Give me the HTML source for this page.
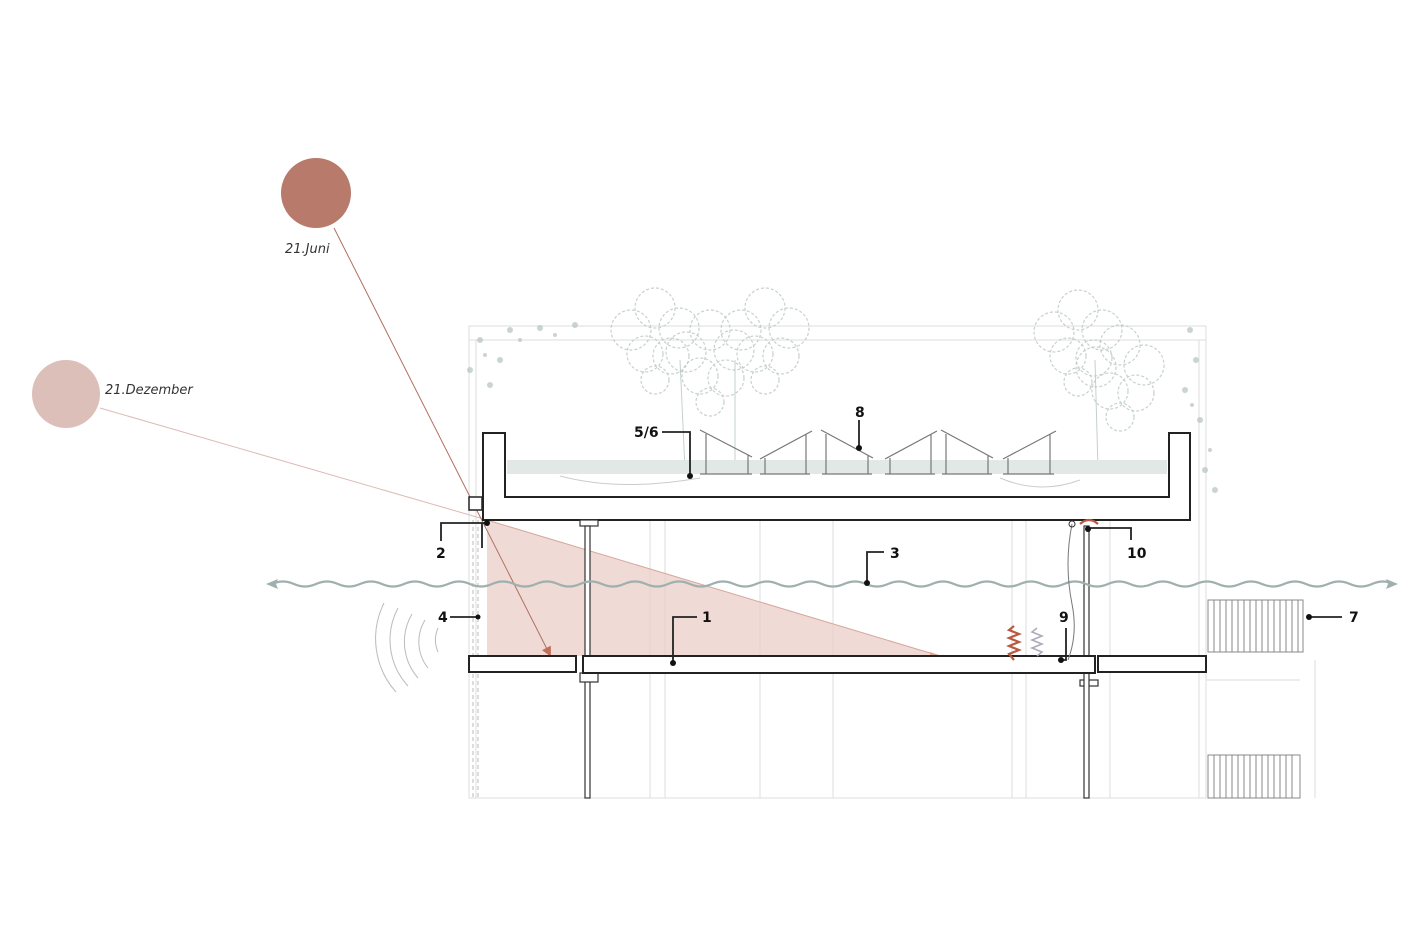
<!DOCTYPE html>
<html><head><meta charset="utf-8"><style>
html,body{margin:0;padding:0;background:#fff;}
svg{display:block;}
text{font-family:"DejaVu Sans","Liberation Sans",sans-serif;}
</style></head><body>
<svg width="1420" height="947" viewBox="0 0 1420 947" xmlns="http://www.w3.org/2000/svg">
<defs>
<marker id="ah" markerWidth="10" markerHeight="10" refX="8" refY="5" orient="auto" markerUnits="userSpaceOnUse"><path d="M0,0 L10,5 L0,10 Z" fill="#c0705a"/></marker>
<g id="tree" fill="none" stroke="#b9c6c4" stroke-width="1.2" opacity="0.8">
<circle cx="0" cy="0" r="20" stroke-dasharray="3,2"/><circle cx="-24" cy="22" r="20" stroke-dasharray="3,2"/><circle cx="24" cy="20" r="20" stroke-dasharray="3,2"/><circle cx="-10" cy="46" r="18" stroke-dasharray="3,2"/><circle cx="16" cy="48" r="18" stroke-dasharray="3,2"/><circle cx="0" cy="72" r="14" stroke-dasharray="3,2"/>
</g>
</defs>
<!-- faint frame -->
<g fill="none" stroke="#ddd" stroke-width="1">
<rect x="469" y="326" width="737" height="472"/>
<line x1="469" y1="340" x2="1206" y2="340"/>
<line x1="1199" y1="340" x2="1199" y2="798"/>
<line x1="476" y1="340" x2="476" y2="798"/>
<line x1="650" y1="520" x2="650" y2="798"/><line x1="665" y1="520" x2="665" y2="798"/>
<line x1="760" y1="520" x2="760" y2="798"/><line x1="833" y1="520" x2="833" y2="798"/>
<line x1="1012" y1="520" x2="1012" y2="798"/><line x1="1026" y1="520" x2="1026" y2="798"/>
<line x1="1110" y1="520" x2="1110" y2="798"/><line x1="1315" y1="660" x2="1315" y2="798"/>
<line x1="1206" y1="680" x2="1300" y2="680"/>
</g>
<g stroke="#bbb" stroke-dasharray="4,3" stroke-width="1"><line x1="473" y1="520" x2="473" y2="798"/><line x1="478" y1="520" x2="478" y2="798"/></g>
<!-- trees -->
<g>
<line x1="680" y1="360" x2="685" y2="470" stroke="#c6d0ce"/><line x1="735" y1="360" x2="735" y2="470" stroke="#c6d0ce"/><line x1="1095" y1="360" x2="1098" y2="470" stroke="#c6d0ce"/>
<use href="#tree" x="655" y="308"/><use href="#tree" x="765" y="308"/><use href="#tree" x="710" y="330"/>
<use href="#tree" x="1078" y="310"/><use href="#tree" x="1120" y="345"/>
</g>
<!-- ivy -->
<g fill="#b4c2c0" opacity="0.7">
<circle cx="480" cy="340" r="3"/><circle cx="500" cy="360" r="3"/><circle cx="470" cy="370" r="3"/><circle cx="510" cy="330" r="3"/><circle cx="540" cy="328" r="3"/><circle cx="575" cy="325" r="3"/><circle cx="490" cy="385" r="3"/><circle cx="520" cy="340" r="2"/><circle cx="555" cy="335" r="2"/><circle cx="485" cy="355" r="2"/>
<circle cx="1190" cy="330" r="3"/><circle cx="1196" cy="360" r="3"/><circle cx="1185" cy="390" r="3"/><circle cx="1200" cy="420" r="3"/><circle cx="1205" cy="470" r="3"/><circle cx="1215" cy="490" r="3"/><circle cx="1180" cy="440" r="3"/><circle cx="1192" cy="405" r="2"/><circle cx="1210" cy="450" r="2"/>
</g>
<!-- grass -->
<rect x="507" y="460" width="660" height="14" fill="#e2e8e6"/>
<path d="M560,476 Q620,492 700,478 M1000,478 Q1040,495 1080,480" stroke="#ccc" fill="none"/>
<!-- solar panels -->
<g stroke="#777" stroke-width="1.2" fill="none">
<path d="M700,430 L752,457 M706,434 V474 M748,455 V474 M700,474 H752"/>
<path d="M760,459 L812,431 M765,458 V474 M806,434 V474 M760,474 H810"/>
<path d="M821,430 L873,458 M826,434 V474 M868,455 V474 M822,474 H872"/>
<path d="M885,459 L937,431 M890,458 V474 M931,434 V474 M885,474 H935"/>
<path d="M941,430 L993,458 M946,434 V474 M988,455 V474 M942,474 H992"/>
<path d="M1003,459 L1056,431 M1008,458 V474 M1050,434 V474 M1003,474 H1054"/>
</g>
<polygon points="487,520 487,656 940,656" fill="#e9cdc8" opacity="0.75"/>
<line x1="487" y1="520" x2="940" y2="656" stroke="#d7a79c" stroke-width="1"/>
<circle cx="316" cy="193" r="35" fill="#b87a6a"/>
<circle cx="66" cy="394" r="34" fill="#dcbfb8"/>
<text x="285" y="253" font-size="13" font-style="italic" fill="#333">21.Juni</text>
<text x="105" y="394" font-size="13" font-style="italic" fill="#333">21.Dezember</text>
<line x1="100" y1="408" x2="487" y2="520" stroke="#dcbcb4" stroke-width="1"/>
<line x1="334" y1="228" x2="550" y2="655" stroke="#b07060" stroke-width="1" marker-end="url(#ah)"/>
<polygon points="930,652 942,656 930,660" fill="#dba89a"/>
<path d="M483,433 H505 V497 H1169 V433 H1190 V520 H483 Z" fill="#fff" stroke="#222" stroke-width="2"/>
<rect x="469" y="497" width="13" height="13" fill="#fff" stroke="#222" stroke-width="1.5"/>
<g stroke="#333" stroke-width="1.2" fill="#fff">
<rect x="580" y="520" width="18" height="6"/><rect x="585" y="526" width="5" height="272"/>
<rect x="1080" y="680" width="18" height="6"/><rect x="1084" y="526" width="5" height="272"/>
<rect x="580" y="673" width="18" height="9"/>
</g>
<g fill="#fff" stroke="#222" stroke-width="2">
<rect x="469" y="656" width="107" height="16"/>
<rect x="583" y="656" width="512" height="17"/>
<rect x="1098" y="656" width="108" height="16"/>
</g>
<path d="M272,584 q11,-5 22,0 t22,0 t22,0 t22,0 t22,0 t22,0 t22,0 t22,0 t22,0 t22,0 t22,0 t22,0 t22,0 t22,0 t22,0 t22,0 t22,0 t22,0 t22,0 t22,0 t22,0 t22,0 t22,0 t22,0 t22,0 t22,0 t22,0 t22,0 t22,0 t22,0 t22,0 t22,0 t22,0 t22,0 t22,0 t22,0 t22,0 t22,0 t22,0 t22,0 t22,0 t22,0 t22,0 t22,0 t22,0 t22,0 t22,0 t22,0 t22,0 t22,0 t22,0" stroke="#9fb0ae" stroke-width="2.2" fill="none"/>
<polygon points="266,584 278,579 276,584 278,589" fill="#9fb0ae"/>
<polygon points="1398,584 1386,579 1388,584 1386,589" fill="#9fb0ae"/>
<g fill="none" stroke="#bbb" stroke-width="1">
<path d="M438,628 A30,30 0 0 0 438,652" transform="rotate(0)"/>
<path d="M425,620 A42,42 0 0 0 428,668"/>
<path d="M412,614 A55,55 0 0 0 418,678"/>
<path d="M398,608 A68,68 0 0 0 408,686"/>
<path d="M384,603 A80,80 0 0 0 396,692"/>
</g>
<g stroke="#888" stroke-width="1" fill="none">
<rect x="1208" y="600" width="95" height="52"/>
<path d="M1214,600V652M1220,600V652M1226,600V652M1232,600V652M1238,600V652M1244,600V652M1250,600V652M1256,600V652M1262,600V652M1268,600V652M1274,600V652M1280,600V652M1286,600V652M1292,600V652M1298,600V652"/>
<rect x="1208" y="755" width="92" height="43"/>
<path d="M1214,755V798M1220,755V798M1226,755V798M1232,755V798M1238,755V798M1244,755V798M1250,755V798M1256,755V798M1262,755V798M1268,755V798M1274,755V798M1280,755V798M1286,755V798M1292,755V798"/>
</g>
<path d="M1014,626 l-5,4 l10,4 l-10,4 l10,4 l-10,4 l10,4 l-10,4 l5,6" stroke="#b85a40" stroke-width="2.2" fill="none"/>
<path d="M1037,628 l-5,4 l10,4 l-10,4 l10,4 l-10,4 l10,4 l-5,4" stroke="#aab" stroke-width="1.5" fill="none"/>
<path d="M1072,524 q-8,40 0,80 q6,30 -4,56" stroke="#777" fill="none"/>
<circle cx="1072" cy="524" r="3" fill="none" stroke="#333"/>
<path d="M1080,524 q9,-8 18,0" stroke="#b85a40" stroke-width="2.2" fill="none"/>
<g stroke="#222" stroke-width="1.8" fill="none">
<path d="M441,541 V523 H487"/><path d="M482,523 V548"/>
<path d="M884,552 H867 V583"/>
<path d="M450,617 H478"/>
<path d="M697,617 H673 V663"/>
<path d="M662,432 H690 V476"/>
<path d="M859,420 V448"/>
<path d="M1066,628 V660 H1060"/>
<path d="M1088,528 H1131 V540"/>
<path d="M1342,617 H1309"/>
</g>
<g fill="#111">
<circle cx="487" cy="523" r="3"/><circle cx="867" cy="583" r="3"/><circle cx="478" cy="617" r="2.5"/><circle cx="673" cy="663" r="3"/><circle cx="690" cy="476" r="3"/><circle cx="859" cy="448" r="3"/><circle cx="1061" cy="660" r="3"/><circle cx="1088" cy="529" r="3"/><circle cx="1309" cy="617" r="3"/>
</g>
<g font-size="14" font-weight="bold" fill="#111">
<text x="436" y="558">2</text><text x="890" y="558">3</text><text x="438" y="622">4</text><text x="702" y="622">1</text>
<text x="634" y="437">5/6</text><text x="855" y="417">8</text><text x="1059" y="622">9</text><text x="1127" y="558">10</text><text x="1349" y="622">7</text>
</g>
</svg>
</body></html>
